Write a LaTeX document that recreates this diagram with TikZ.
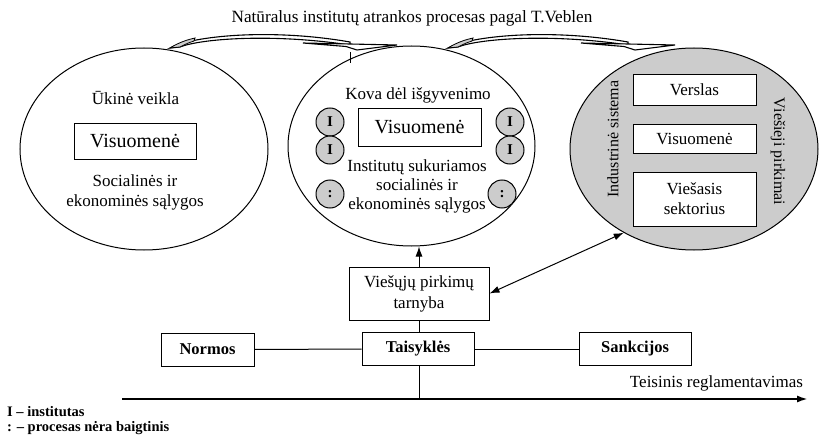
\documentclass[tikz,border=0pt]{standalone}
\usepackage{fontspec}
\setmainfont{Liberation Serif}
\usetikzlibrary{shapes.geometric,arrows.meta}
\definecolor{shade}{gray}{0.8}
\begin{document}
\begin{tikzpicture}[x=1pt,y=-1pt,
  oval/.style={draw,ellipse,line width=1pt,inner sep=0pt},
  box/.style={draw,line width=1pt,inner sep=0pt,align=center},
  bigbox/.style={box,font=\fontsize{20}{24}\selectfont,minimum width=122pt,minimum height=36pt},
  sectbox/.style={box,font=\fontsize{17}{20}\selectfont,minimum width=123pt},
  lbl/.style={font=\fontsize{17}{20}\selectfont,align=center,inner sep=0pt},
  sidelbl/.style={font=\fontsize{16}{20}\selectfont,inner sep=0pt},
  inst/.style={draw,circle,fill=shade,line width=1pt,minimum size=28pt,inner sep=0pt,font=\fontsize{15}{15}\selectfont\bfseries},
  rulebox/.style={box,font=\fontsize{16.5}{18}\selectfont\bfseries,minimum height=33pt},
  link/.style={line width=1pt},
  tipped/.style={link,-{Latex[length=10pt,width=7pt]}},
  legend/.style={font=\fontsize{14.5}{16}\selectfont\bfseries,anchor=west,inner sep=0pt},
  bentarrow/.pic={
    % curved shaft with a shaded underside at the tail
    \draw[fill=white,line width=1.1pt] (0,0) .. controls (22,-12) and (100,-20) .. (180,-6)
      -- (180,-3) .. controls (100,-15) and (30,-9) .. (10,-1) -- cycle;
    \draw[fill=shade,line width=0.8pt] (0,0) .. controls (8,-5) and (16,-8) .. (25,-10)
      -- (24,-7) .. controls (18,-5) .. (10,-1) -- cycle;
    % flattened head
    \draw[fill=white,line width=1.1pt] (133,-5) -- (227,-3) -- (187,2) -- (176,-1.5) -- cycle;
  }
]
\useasboundingbox (0,0) rectangle (820,436);

% heading
\node[lbl,font=\fontsize{17.2}{20}\selectfont] (title) at (412,18) {Natūralus institutų atrankos procesas pagal T.Veblen};

% three stages
\node[oval,minimum width=248pt,minimum height=202pt] (left) at (144,149) {};
\node[oval,minimum width=247pt,minimum height=200pt] (mid) at (411.5,146) {};
\node[oval,fill=shade,minimum width=248pt,minimum height=202pt] (right) at (694,149) {};

% selection arrows over the stages
\pic at (170,48) {bentarrow};
\pic at (448,48) {bentarrow};
\draw[line width=1pt] (350,52) -- (350,63);

% left stage
\node[lbl] (ukine) at (135.5,98) {Ūkinė veikla};
\node[bigbox] (visL) at (135,141) {Visuomenė};
\node[lbl] (condL) at (135,192) {Socialinės ir\\ekonominės sąlygos};

% middle stage
\node[lbl] (kova) at (418,95) {Kova dėl išgyvenimo};
\node[bigbox,minimum width=123pt,minimum height=37pt] (visM) at (419.5,127.5) {Visuomenė};
\node[lbl,font=\fontsize{17}{19}\selectfont] (condM) at (417,186) {Institutų sukuriamos\\socialinės ir\\ekonominės sąlygos};
\node[inst] (iL1) at (330,122) {I};
\node[inst] (iL2) at (330,150) {I};
\node[inst] (iL3) at (330,194) {:};
\node[inst] (iR1) at (510,122) {I};
\node[inst] (iR2) at (510,150) {I};
\node[inst] (iR3) at (502,194) {:};

% right stage
\node[sectbox,fill=white,minimum height=31pt] (verslas) at (694.5,90) {Verslas};
\node[sectbox,fill=white,minimum height=29pt] (visR) at (694.5,139) {Visuomenė};
\node[sectbox,fill=white,minimum height=54pt] (viesasis) at (694.5,199) {Viešasis\\sektorius};
\node[sidelbl,rotate=90] (industr) at (613,139) {Industrinė sistema};
\node[sidelbl,rotate=-90] (pirkimai) at (778,151.5) {Viešieji pirkimai};

% regulation
\node[box,font=\fontsize{17}{21}\selectfont,minimum width=140pt,minimum height=53pt] (tarnyba) at (419,293.5) {Viešųjų pirkimų\\tarnyba};
\node[rulebox,minimum width=112pt] (taisykles) at (418,349) {Taisyklės};
\node[rulebox,minimum width=93pt] (normos) at (207.5,349.5) {Normos};
\node[rulebox,minimum width=112pt] (sankcijos) at (635,349) {Sankcijos};

\coordinate (axstart) at (122,399);
\coordinate (axend) at (808,399);
\draw[line width=2pt,-{Latex[length=11pt,width=7pt]}] (axstart) -- (axend);
\node[lbl] (teisinis) at (716.5,383) {Teisinis reglamentavimas};

\draw[tipped] (tarnyba.north) -- (tarnyba.north |- mid.south);
\draw[link,{Latex[length=10pt,width=7pt]}-{Latex[length=10pt,width=7pt]}] (tarnyba.east) -- (right.230);
\draw[link] (tarnyba.south) -- (tarnyba.south |- taisykles.north);
\draw[link] (tarnyba.south |- taisykles.south) -- (tarnyba.south |- axstart);
\draw[link] (normos.east) -- (taisykles.west);
\draw[link] (taisykles.east) -- (sankcijos.west);

% key
\node[legend] (keyI) at (7,412) {I – institutas};
\node[legend] (keyC) at (7,428) {: – procesas nėra baigtinis};
\end{tikzpicture}
\end{document}
